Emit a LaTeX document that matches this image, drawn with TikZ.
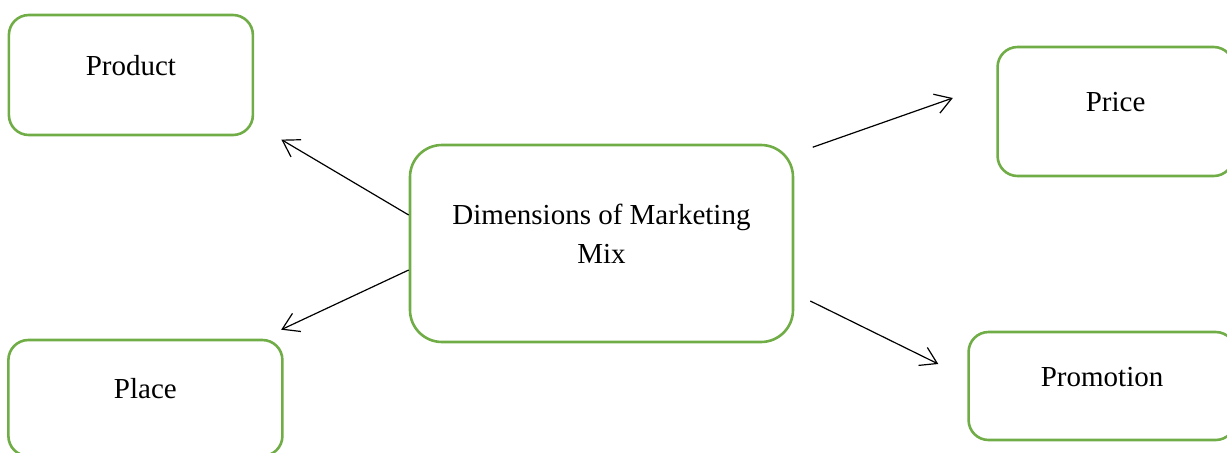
\documentclass[tikz,border=0pt]{standalone}
\usepackage{fontspec}
\setmainfont{Liberation Serif}
\usepackage{tikz}
\usetikzlibrary{shapes,arrows.meta,positioning}
\definecolor{leafgreen}{RGB}{112, 173, 71}
\tikzstyle{dim} = [rectangle, rounded corners=10pt, draw=leafgreen, line width=1.3pt, text=black, text centered, inner sep=0pt, font=\fontsize{14.5}{19.5}\selectfont, text height=0pt, text depth=0pt]
\tikzstyle{mix} = [dim, rounded corners=16pt, align=center, text height=19.5pt, minimum width=191.5pt, minimum height=98.5pt]
\tikzstyle{tedge}  = [draw, line width=0.6pt, -{Straight Barb[length=8pt, width=10pt]}]

\begin{document}
\begin{tikzpicture}[auto]
\useasboundingbox (-300.75pt,-104.25pt) rectangle (312.75pt,121.75pt);

% dimensions =============================
\node[mix] (mix) {Dimensions of Marketing\\Mix};
\node[dim, minimum width=122pt, minimum height=60pt, left=77.25pt of mix, yshift=84.25pt] (product) {Product};
\node[dim, minimum width=137pt, minimum height=58pt, left=62.5pt of mix, yshift=-77.25pt] (place) {Place};
\node[dim, minimum width=118pt, minimum height=64.5pt, right=101pt of mix, yshift=66pt] (price) {Price};
\node[dim, minimum width=133.5pt, minimum height=54pt, right=86.5pt of mix, yshift=-71.25pt] (promotion) {Promotion};

% arrow ends =============================
\coordinate (productend) at ([shift={(13.6pt,-1.65pt)}]product.south east);
\coordinate (placeend) at ([shift={(-1.25pt,4.5pt)}]place.north east);
\coordinate (pricestart) at ([shift={(9.25pt,-1.75pt)}]mix.north east);
\coordinate (priceend) at ([shift={(-21.75pt,6.75pt)}]price.west);
\coordinate (promostart) at ([shift={(8pt,-28.75pt)}]mix.east);
\coordinate (promoend) at ([shift={(-14.5pt,11pt)}]promotion.west);

% edges =============================
\path[tedge] ([yshift=14.25pt]mix.west) -- (productend);
\path[tedge] ([yshift=-13.25pt]mix.west) -- (placeend);
\path[tedge] (pricestart) -- (priceend);
\path[tedge] (promostart) -- (promoend);

\end{tikzpicture}
\end{document}
